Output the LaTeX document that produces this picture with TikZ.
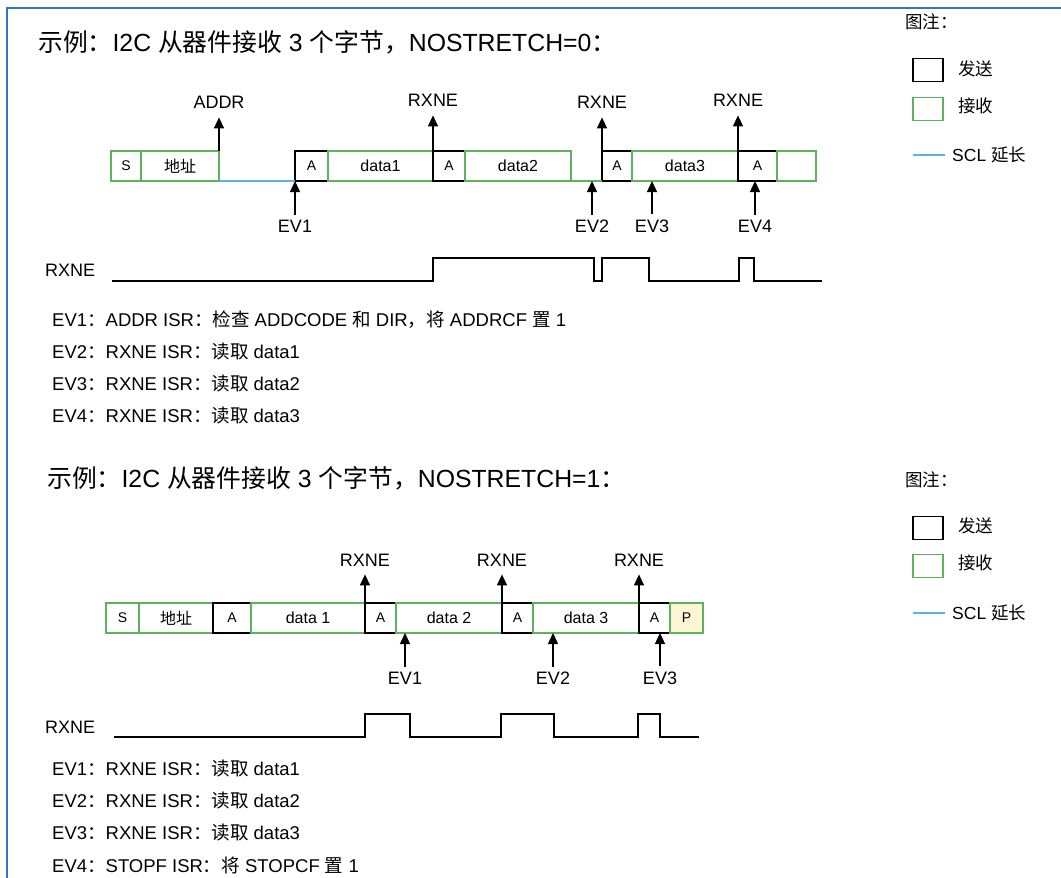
\documentclass[tikz,border=0pt]{standalone}
\usepackage{fontspec}
\setmainfont{Liberation Sans}
\newfontfamily\cjk{Noto Sans CJK SC}
\newcommand{\zh}[1]{{\cjk #1}}
\usetikzlibrary{arrows.meta,positioning}
\definecolor{recv}{HTML}{5DB35D}
\definecolor{sclext}{HTML}{5AB4E0}
\definecolor{stopfill}{HTML}{FFF6D5}
\definecolor{frameblue}{HTML}{2F78C4}

\begin{document}
\begin{tikzpicture}[x=1pt,y=-1pt,
  field/.style={draw=#1,line width=1.3pt,minimum height=30pt,inner sep=0pt,outer sep=0pt,font=\fontsize{16}{18}\selectfont},
  rx/.style={field=recv},
  tx/.style={field=black},
  bit/.style={font=\fontsize{14}{16}\selectfont},
  flag/.style={font=\fontsize{18}{20}\selectfont,inner sep=1pt},
  up/.style={-{Triangle[length=11pt,width=10pt]},line width=1.3pt},
  wave/.style={line width=1.2pt},
  note/.style={anchor=west,inner sep=0pt,font=\fontsize{18.5}{20}\selectfont},
  title/.style={anchor=west,inner sep=0pt,font=\fontsize{24.8}{27}\selectfont},
  legend/.style={anchor=west,inner sep=0pt,font=\fontsize{17.5}{19}\selectfont}]
  \useasboundingbox (0,0) rectangle (1061,878);
  \draw[frameblue,line width=2pt] (1061,8) -- (7,8) -- (7,878);

  % NOSTRETCH=0
  \node[title] (title1) at (38,42) {\zh{示例：}I2C \zh{从器件接收} 3 \zh{个字节，}NOSTRETCH=0\zh{：}};
  \node[rx,bit,minimum width=30pt,anchor=west] (s1) at (111,166) {S};
  \node[rx,minimum width=78pt,right=0pt of s1] (adr1) {\zh{地址}};
  \node[tx,bit,minimum width=33pt,anchor=west] (a1) at (295,166) {A};
  \node[rx,minimum width=105pt,right=0pt of a1] (d1) {data1};
  \node[tx,bit,minimum width=32pt,right=0pt of d1] (a2) {A};
  \node[rx,minimum width=106pt,right=0pt of a2] (d2) {data2};
  \node[tx,bit,minimum width=30pt,anchor=west] (a3) at (602,166) {A};
  \node[rx,minimum width=106pt,right=0pt of a3] (d3) {data3};
  \node[tx,bit,minimum width=39pt,right=0pt of d3] (a4) {A};
  \node[rx,minimum width=39pt,right=0pt of a4] (end1) {};
  \draw[sclext,line width=1.3pt] (adr1.south east) -- (a1.south west);
  \draw[recv,line width=1.3pt] (d2.south east) -- (a3.south west);

  \node[flag] (addr) at (219,102) {ADDR};
  \node[flag] (rxne1) at (433,100) {RXNE};
  \node[flag] (rxne2) at (602,102) {RXNE};
  \node[flag] (rxne3) at (738,100) {RXNE};
  \draw[up] (adr1.north east) -- ([yshift=-8pt]addr.south);
  \draw[up] (a2.north west) -- ([yshift=-8pt]rxne1.south);
  \draw[up] (a3.north west) -- ([yshift=-8pt]rxne2.south);
  \draw[up] (a4.north west) -- ([yshift=-8pt]rxne3.south);

  \node[flag] (ev1) at (295,226) {EV1};
  \node[flag] (ev2) at (592,226) {EV2};
  \node[flag] (ev3) at (652,226) {EV3};
  \node[flag] (ev4) at (755,226) {EV4};
  \draw[up] ([yshift=4pt]ev1.north) -- (a1.south west);
  \draw[up] ([yshift=4pt]ev2.north) -- (ev2.north |- d2.south);
  \draw[up] ([yshift=4pt]ev3.north) -- (ev3.north |- d3.south);
  \draw[up] ([yshift=4pt]ev4.north) -- (ev4.north |- a4.south);

  \node[flag,anchor=west] (sig1) at (44,270) {RXNE};
  \draw[wave] (112,281) -- (433,281) -- (433,258) -- (594,258) -- (594,281) -- (602,281) -- (602,258)
    -- (649,258) -- (649,281) -- (739,281) -- (739,258) -- (754,258) -- (754,281) -- (822,281);

  \node[note] (n11) at (52,320) {EV1\zh{：}ADDR ISR\zh{：检查} ADDCODE \zh{和} DIR\zh{，将} ADDRCF \zh{置} 1};
  \node[note] (n12) at (52,352) {EV2\zh{：}RXNE ISR\zh{：读取} data1};
  \node[note] (n13) at (52,384) {EV3\zh{：}RXNE ISR\zh{：读取} data2};
  \node[note] (n14) at (52,416) {EV4\zh{：}RXNE ISR\zh{：读取} data3};

  \node[legend] (key1) at (905,22) {\zh{图注：}};
  \node[field=black,minimum width=30pt,minimum height=23pt] (keytx1) at (928,70) {};
  \node[legend] (keytxt1) at (958,69) {\zh{发送}};
  \node[field=recv,minimum width=30pt,minimum height=23pt] (keyrx1) at (928,109) {};
  \node[legend] (keyrxt1) at (958,106) {\zh{接收}};
  \coordinate (keyscl1) at (913,155);
  \node[legend] (keysclt1) at (952,155) {SCL \zh{延长}};
  \draw[sclext,line width=1.8pt] (keyscl1) -- ([xshift=-7pt]keysclt1.west);

  % NOSTRETCH=1
  \node[title] (title2) at (47,478) {\zh{示例：}I2C \zh{从器件接收} 3 \zh{个字节，}NOSTRETCH=1\zh{：}};
  \node[rx,bit,minimum width=33pt,anchor=west] (s2) at (106,618) {S};
  \node[rx,minimum width=74pt,right=0pt of s2] (adr2) {\zh{地址}};
  \node[tx,bit,minimum width=38pt,right=0pt of adr2] (a5) {A};
  \node[rx,minimum width=114pt,right=0pt of a5] (d4) {data 1};
  \node[tx,bit,minimum width=31pt,right=0pt of d4] (a6) {A};
  \node[rx,minimum width=106pt,right=0pt of a6] (d5) {data 2};
  \node[tx,bit,minimum width=31pt,right=0pt of d5] (a7) {A};
  \node[rx,minimum width=106pt,right=0pt of a7] (d6) {data 3};
  \node[tx,bit,minimum width=31pt,right=0pt of d6] (a8) {A};
  \node[rx,bit,fill=stopfill,minimum width=33pt,right=0pt of a8] (p2) {P};

  \node[flag] (rxne4) at (365,560) {RXNE};
  \node[flag] (rxne5) at (502,560) {RXNE};
  \node[flag] (rxne6) at (639,560) {RXNE};
  \draw[up] (a6.north west) -- ([yshift=-7pt]rxne4.south);
  \draw[up] (a7.north west) -- ([yshift=-7pt]rxne5.south);
  \draw[up] (a8.north west) -- ([yshift=-7pt]rxne6.south);

  \node[flag] (ev5) at (405,678) {EV1};
  \node[flag] (ev6) at (553,678) {EV2};
  \node[flag] (ev7) at (660,678) {EV3};
  \draw[up] ([yshift=4pt]ev5.north) -- (ev5.north |- d5.south);
  \draw[up] ([yshift=4pt]ev6.north) -- (ev6.north |- d6.south);
  \draw[up] ([yshift=4pt]ev7.north) -- (ev7.north |- a8.south);

  \node[flag,anchor=west] (sig2) at (44,727) {RXNE};
  \draw[wave] (114,737) -- (365,737) -- (365,714) -- (410,714) -- (410,737) -- (501,737) -- (501,714)
    -- (554,714) -- (554,737) -- (638,737) -- (638,714) -- (660,714) -- (660,737) -- (699,737);

  \node[note] (n21) at (52,769) {EV1\zh{：}RXNE ISR\zh{：读取} data1};
  \node[note] (n22) at (52,801) {EV2\zh{：}RXNE ISR\zh{：读取} data2};
  \node[note] (n23) at (52,833) {EV3\zh{：}RXNE ISR\zh{：读取} data3};
  \node[note] (n24) at (52,865) {EV4\zh{：}STOPF ISR\zh{：将} STOPCF \zh{置} 1};

  \node[legend] (key2) at (905,480) {\zh{图注：}};
  \node[field=black,minimum width=30pt,minimum height=23pt] (keytx2) at (928,528) {};
  \node[legend] (keytxt2) at (958,526) {\zh{发送}};
  \node[field=recv,minimum width=30pt,minimum height=23pt] (keyrx2) at (928,566) {};
  \node[legend] (keyrxt2) at (958,563) {\zh{接收}};
  \coordinate (keyscl2) at (913,613);
  \node[legend] (keysclt2) at (952,613) {SCL \zh{延长}};
  \draw[sclext,line width=1.8pt] (keyscl2) -- ([xshift=-7pt]keysclt2.west);
\end{tikzpicture}
\end{document}
